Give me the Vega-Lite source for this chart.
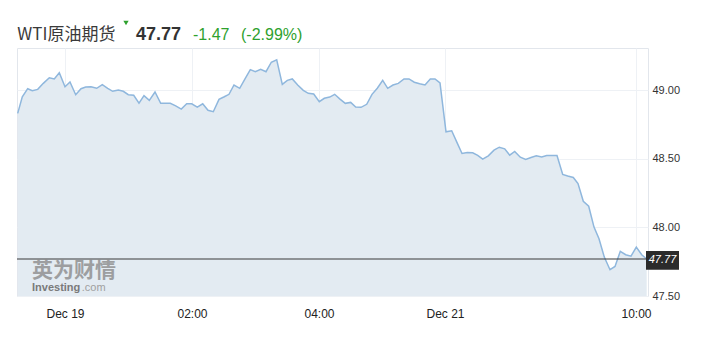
{
  "$schema": "https://vega.github.io/schema/vega-lite/v6.json",
  "width": 631,
  "height": 248,
  "autosize": {"type": "none"},
  "padding": {"left": 17, "top": 48, "right": 66, "bottom": 61},
  "background": "white",
  "config": {
    "view": {"stroke": "#e2e6ec", "strokeWidth": 1},
    "font": "Liberation Sans"
  },
  "datasets": {
    "one": [{}],
    "price": [
    {"t": 0.7, "v": 48.833}, {"t": 5.3, "v": 48.954}, {"t": 10.7, "v": 49.013}, {"t": 15.3, "v": 48.998},
    {"t": 20.7, "v": 49.008}, {"t": 26.3, "v": 49.052}, {"t": 32.3, "v": 49.093}, {"t": 37.3, "v": 49.084},
    {"t": 42.3, "v": 49.130}, {"t": 48.0, "v": 49.027}, {"t": 53.0, "v": 49.062}, {"t": 58.7, "v": 48.969},
    {"t": 64.0, "v": 49.013}, {"t": 68.7, "v": 49.025}, {"t": 74.0, "v": 49.027}, {"t": 79.7, "v": 49.016},
    {"t": 85.3, "v": 49.042}, {"t": 90.7, "v": 49.016}, {"t": 95.7, "v": 48.994}, {"t": 101.3, "v": 49.003},
    {"t": 106.3, "v": 48.994}, {"t": 111.3, "v": 48.969}, {"t": 116.7, "v": 48.965}, {"t": 122.0, "v": 48.908},
    {"t": 127.0, "v": 48.962}, {"t": 132.3, "v": 48.928}, {"t": 138.0, "v": 48.989}, {"t": 143.7, "v": 48.906},
    {"t": 153.3, "v": 48.906}, {"t": 158.7, "v": 48.888}, {"t": 164.3, "v": 48.864}, {"t": 169.7, "v": 48.903},
    {"t": 174.7, "v": 48.903}, {"t": 180.3, "v": 48.879}, {"t": 185.7, "v": 48.903}, {"t": 191.0, "v": 48.855},
    {"t": 196.3, "v": 48.845}, {"t": 202.0, "v": 48.935}, {"t": 207.3, "v": 48.954}, {"t": 212.0, "v": 48.972},
    {"t": 217.0, "v": 49.040}, {"t": 222.7, "v": 49.016}, {"t": 228.0, "v": 49.084}, {"t": 233.3, "v": 49.152},
    {"t": 238.3, "v": 49.137}, {"t": 243.7, "v": 49.155}, {"t": 249.0, "v": 49.137}, {"t": 254.3, "v": 49.206},
    {"t": 259.7, "v": 49.223}, {"t": 265.3, "v": 49.045}, {"t": 270.3, "v": 49.074}, {"t": 275.3, "v": 49.084},
    {"t": 280.7, "v": 49.040}, {"t": 286.3, "v": 49.001}, {"t": 291.3, "v": 48.979}, {"t": 296.7, "v": 48.974},
    {"t": 302.3, "v": 48.918}, {"t": 307.3, "v": 48.943}, {"t": 312.7, "v": 48.952}, {"t": 317.7, "v": 48.972},
    {"t": 323.0, "v": 48.937}, {"t": 328.3, "v": 48.906}, {"t": 333.7, "v": 48.913}, {"t": 338.7, "v": 48.879},
    {"t": 344.0, "v": 48.877}, {"t": 349.7, "v": 48.899}, {"t": 355.0, "v": 48.972}, {"t": 360.3, "v": 49.016},
    {"t": 365.7, "v": 49.074}, {"t": 370.7, "v": 49.016}, {"t": 376.0, "v": 49.040}, {"t": 381.3, "v": 49.052},
    {"t": 387.0, "v": 49.084}, {"t": 392.0, "v": 49.084}, {"t": 397.3, "v": 49.060}, {"t": 402.7, "v": 49.049},
    {"t": 408.0, "v": 49.040}, {"t": 413.3, "v": 49.084}, {"t": 418.0, "v": 49.084}, {"t": 423.0, "v": 49.055},
    {"t": 429.0, "v": 48.698}, {"t": 434.7, "v": 48.706}, {"t": 439.7, "v": 48.625}, {"t": 445.0, "v": 48.540},
    {"t": 450.3, "v": 48.548}, {"t": 455.7, "v": 48.545}, {"t": 460.7, "v": 48.526}, {"t": 465.7, "v": 48.499},
    {"t": 471.3, "v": 48.523}, {"t": 477.0, "v": 48.564}, {"t": 482.3, "v": 48.586}, {"t": 487.7, "v": 48.574},
    {"t": 492.7, "v": 48.528}, {"t": 497.7, "v": 48.555}, {"t": 503.3, "v": 48.513}, {"t": 508.7, "v": 48.496},
    {"t": 514.0, "v": 48.511}, {"t": 519.3, "v": 48.523}, {"t": 524.7, "v": 48.515}, {"t": 529.7, "v": 48.526},
    {"t": 535.0, "v": 48.526}, {"t": 540.0, "v": 48.526}, {"t": 545.7, "v": 48.387}, {"t": 550.7, "v": 48.376},
    {"t": 556.3, "v": 48.365}, {"t": 561.0, "v": 48.321}, {"t": 566.3, "v": 48.191}, {"t": 571.7, "v": 48.155},
    {"t": 577.0, "v": 48.003}, {"t": 582.0, "v": 47.918}, {"t": 587.3, "v": 47.784}, {"t": 593.0, "v": 47.692},
    {"t": 598.0, "v": 47.716}, {"t": 603.3, "v": 47.826}, {"t": 608.7, "v": 47.801}, {"t": 614.0, "v": 47.791},
    {"t": 619.3, "v": 47.857}, {"t": 624.7, "v": 47.801}, {"t": 629.7, "v": 47.77}
    ]
  },
  "layer": [
    {
      "data": {"name": "price"},
      "mark": {"type": "area", "color": "#e3ebf2", "opacity": 1, "line": {"color": "#8fb7dd", "strokeWidth": 1.5}},
      "encoding": {
        "x": {
          "field": "t", "type": "quantitative",
          "scale": {"domain": [0, 631], "nice": false, "zero": false},
          "axis": {
            "title": null,
            "values": [48, 175, 302, 428, 619],
            "labelExpr": "datum.value == 48 ? 'Dec 19' : datum.value == 175 ? '02:00' : datum.value == 302 ? '04:00' : datum.value == 428 ? 'Dec 21' : '10:00'",
            "domain": false, "ticks": false,
            "grid": true, "gridColor": "#eef1f5", "gridWidth": 1,
            "labelFont": "Liberation Sans", "labelFontSize": 12, "labelColor": "#222",
            "labelPadding": 12, "labelFlush": false
          }
        },
        "y": {
          "field": "v", "type": "quantitative",
          "scale": {"domain": [47.5, 49.31], "nice": false, "zero": false},
          "axis": {
            "title": null, "orient": "right",
            "values": [47.5, 47.75, 48, 48.25, 48.5, 48.75, 49, 49.25],
            "labelExpr": "datum.value == 47.75 || datum.value == 49.25 ? '' : format(datum.value, '.2f')",
            "domain": false, "ticks": false,
            "grid": true, "gridColor": "#eef1f5", "gridWidth": 1,
            "labelFont": "Liberation Sans", "labelFontSize": 11, "labelColor": "#333",
            "labelPadding": 4, "labelFlush": false
          }
        },
        "y2": {"datum": 47.5}
      }
    },
    {
      "data": {"name": "one"},
      "mark": {"type": "rule", "color": "#3a3a3a", "strokeWidth": 1.2},
      "encoding": {
        "y": {"datum": 47.77},
        "x": {"datum": 0},
        "x2": {"datum": 631}
      }
    },
    {
      "data": {"name": "one"},
      "mark": {"type": "rect", "color": "#2b2b2b", "clip": false},
      "encoding": {
        "x": {"datum": 629},
        "x2": {"datum": 662},
        "y": {"datum": 47.828},
        "y2": {"datum": 47.692}
      }
    },
    {
      "data": {"name": "one"},
      "mark": {"type": "text", "color": "white", "fontSize": 11, "font": "Liberation Sans", "align": "center", "baseline": "middle", "fontStyle": "italic"},
      "encoding": {
        "x": {"datum": 645.5},
        "y": {"datum": 47.76},
        "text": {"value": "47.77"}
      }
    },
    {
      "data": {"name": "one"},
      "mark": {"type": "text", "color": "#8c8c8c", "opacity": 0.8, "fontSize": 21, "fontWeight": "bold", "font": "Noto Sans CJK SC", "align": "left", "baseline": "bottom"},
      "encoding": {
        "x": {"datum": 15},
        "y": {"datum": 47.607},
        "text": {"value": "英为财情"}
      }
    },
    {
      "data": {"name": "one"},
      "mark": {"type": "text", "color": "#7a7a7a", "fontSize": 11, "fontWeight": "bold", "font": "Liberation Sans", "align": "left", "baseline": "top"},
      "encoding": {
        "x": {"datum": 15},
        "y": {"datum": 47.605},
        "text": {"value": "Investing"}
      }
    },
    {
      "data": {"name": "one"},
      "mark": {"type": "text", "color": "#a0a0a0", "fontSize": 11, "font": "Liberation Sans", "align": "left", "baseline": "top"},
      "encoding": {
        "x": {"datum": 64.8},
        "y": {"datum": 47.605},
        "text": {"value": ".com"}
      }
    },
    {
      "data": {"name": "one"},
      "mark": {"type": "text", "color": "#3a3a3a", "fontSize": 17, "font": "Noto Sans CJK SC", "align": "left", "baseline": "alphabetic"},
      "encoding": {
        "x": {"datum": 0.3},
        "y": {"datum": 49.372},
        "text": {"value": "WTI原油期货"}
      }
    },
    {
      "data": {"name": "one"},
      "mark": {"type": "point", "shape": "triangle-down", "filled": true, "color": "#2ea12e", "size": 28, "opacity": 1},
      "encoding": {
        "x": {"datum": 109},
        "y": {"datum": 49.493}
      }
    },
    {
      "data": {"name": "one"},
      "mark": {"type": "text", "color": "#333", "fontSize": 18, "fontWeight": "bold", "font": "Liberation Sans", "align": "left", "baseline": "alphabetic"},
      "encoding": {
        "x": {"datum": 119},
        "y": {"datum": 49.369},
        "text": {"value": "47.77"}
      }
    },
    {
      "data": {"name": "one"},
      "mark": {"type": "text", "color": "#2ea12e", "fontSize": 16, "font": "Liberation Sans", "align": "left", "baseline": "alphabetic"},
      "encoding": {
        "x": {"datum": 176},
        "y": {"datum": 49.369},
        "text": {"value": "-1.47"}
      }
    },
    {
      "data": {"name": "one"},
      "mark": {"type": "text", "color": "#2ea12e", "fontSize": 16, "font": "Liberation Sans", "align": "left", "baseline": "alphabetic"},
      "encoding": {
        "x": {"datum": 224},
        "y": {"datum": 49.369},
        "text": {"value": "(-2.99%)"}
      }
    }
  ]
}
